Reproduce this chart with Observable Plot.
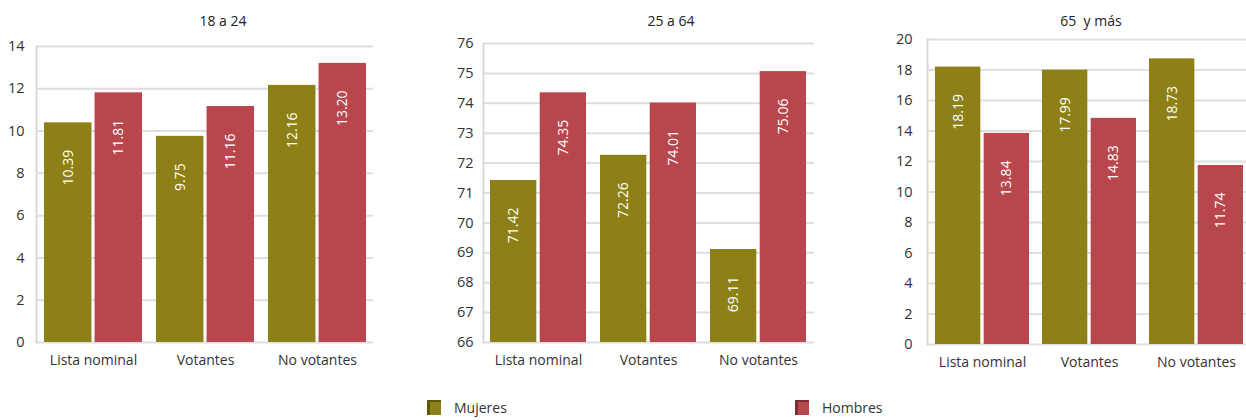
<!DOCTYPE html>
<html>
<head>
<meta charset="utf-8">
<script src="https://cdn.jsdelivr.net/npm/d3@7"></script>
<script src="https://cdn.jsdelivr.net/npm/@observablehq/plot@0.6"></script>
<style>
  html, body { margin: 0; padding: 0; background: #fff; overflow: hidden; }
  body { font-family: "Open Sans", "Noto Sans", sans-serif; color: #333; }
  #wrap { position: relative; width: 1246px; height: 420px; }
  .panel { position: absolute; top: 30px; }
  .title { position: absolute; top: 11px; font-size: 14px; color: #222; transform: translateX(-50%); white-space: pre; }
  .legend-item { position: absolute; top: 398px; display: flex; align-items: center; font-size: 14px; color: #333; }
  .swatch { width: 11px; height: 13px; margin-right: 13px; box-sizing: content-box; }
</style>
</head>
<body>
<div id="wrap"></div>
<script>
const categories = ["Lista nominal", "Votantes", "No votantes"];
const series = ["Mujeres", "Hombres"];
const colors = ["#8c8016", "#b8474d"];
const colorsDark = ["#5e560c", "#7d2d31"];

const groupTitles = ["18 a 24", "25 a 64", "65  y más"];

const mujeres18 = [10.39, 9.75, 12.16];
const hombres18 = [11.81, 11.16, 13.20];
const mujeres25 = [71.42, 72.26, 69.11];
const hombres25 = [74.35, 74.01, 75.06];
const mujeres65 = [18.19, 17.99, 18.73];
const hombres65 = [13.84, 14.83, 11.74];

const ticks18 = [0, 2, 4, 6, 8, 10, 12, 14];
const ticks25 = [66, 67, 68, 69, 70, 71, 72, 73, 74, 75, 76];
const ticks65 = [0, 2, 4, 6, 8, 10, 12, 14, 16, 18, 20];

const wrap = document.getElementById("wrap");

function panel(cfg) {
  const data = categories.flatMap((c, i) => [
    {cat: c, sex: series[0], v: cfg.m[i]},
    {cat: c, sex: series[1], v: cfg.h[i]}
  ]);
  const pi = 0.125, po = 0.065, gap = 3;
  const pw = cfg.width - cfg.ml - cfg.mr;
  const step = pw / (categories.length - pi + 2 * po);
  const bw = step * (1 - pi);
  const inset = bw / 2 + gap / 2;
  const off = bw / 4 + gap / 4;
  const dm = data.filter(d => d.sex === series[0]);
  const dh = data.filter(d => d.sex === series[1]);
  const ticks = cfg.ticks;

  const chart = Plot.plot({
    width: cfg.width,
    height: 350,
    marginLeft: cfg.ml,
    marginRight: cfg.mr,
    marginTop: cfg.mt,
    marginBottom: cfg.mb,
    style: {fontFamily: '"Open Sans", "Noto Sans", sans-serif', fontSize: "14px", color: "#333", background: "transparent", overflow: "visible"},
    x: {domain: categories, paddingInner: pi, paddingOuter: po, axis: null},
    y: {domain: [ticks[0], ticks[ticks.length - 1]], clamp: true, axis: null},
    color: {domain: series, range: colors},
    marks: [
      Plot.ruleY(ticks, {stroke: "#dedede", strokeWidth: 2}),
      Plot.frame({anchor: "left", stroke: "#d9d9d9", strokeWidth: 2}),
      Plot.barY(dm, {x: "cat", y: "v", fill: "sex", insetRight: inset}),
      Plot.barY(dh, {x: "cat", y: "v", fill: "sex", insetLeft: inset}),
      Plot.text(dm, {x: "cat", y: "v", text: d => d.v.toFixed(2), rotate: -90, textAnchor: "end", dx: -off, dy: 27, fill: "white", fontSize: 14}),
      Plot.text(dh, {x: "cat", y: "v", text: d => d.v.toFixed(2), rotate: -90, textAnchor: "end", dx: off, dy: 27, fill: "white", fontSize: 14}),
      Plot.axisY({ticks: ticks, tickSize: 0, tickPadding: cfg.tp, fontSize: 14.5, color: "#333", label: null}),
      Plot.axisX({tickSize: 0, tickPadding: 13, fontSize: 14, color: "#333", label: null})
    ]
  });
  chart.classList.add("panel");
  chart.style.left = cfg.left + "px";
  wrap.appendChild(chart);

  const t = document.createElement("div");
  t.className = "title";
  t.textContent = cfg.title;
  t.style.left = cfg.tx + "px";
  wrap.appendChild(t);
}

panel({title: groupTitles[0], m: mujeres18, h: hombres18, ticks: ticks18, left: 0, width: 415, ml: 36, mr: 42, mt: 16, mb: 38, tp: 12, tx: 223});
panel({title: groupTitles[1], m: mujeres25, h: hombres25, ticks: ticks25, left: 420, width: 415, ml: 63, mr: 21, mt: 13, mb: 38, tp: 10, tx: 671});
panel({title: groupTitles[2], m: mujeres65, h: hombres65, ticks: ticks65, left: 830, width: 421, ml: 97, mr: 0, mt: 9, mb: 36, tp: 15, tx: 1091});

const legendX = [427, 795];
series.forEach((s, i) => {
  const item = document.createElement("div");
  item.className = "legend-item";
  item.style.left = legendX[i] + "px";
  const sw = document.createElement("div");
  sw.className = "swatch";
  sw.style.background = colors[i];
  sw.style.borderLeft = "3px solid " + colorsDark[i];
  sw.style.borderTop = "2px solid " + colorsDark[i];
  const lab = document.createElement("span");
  lab.textContent = s;
  item.appendChild(sw);
  item.appendChild(lab);
  wrap.appendChild(item);
});
</script>
</body>
</html>
